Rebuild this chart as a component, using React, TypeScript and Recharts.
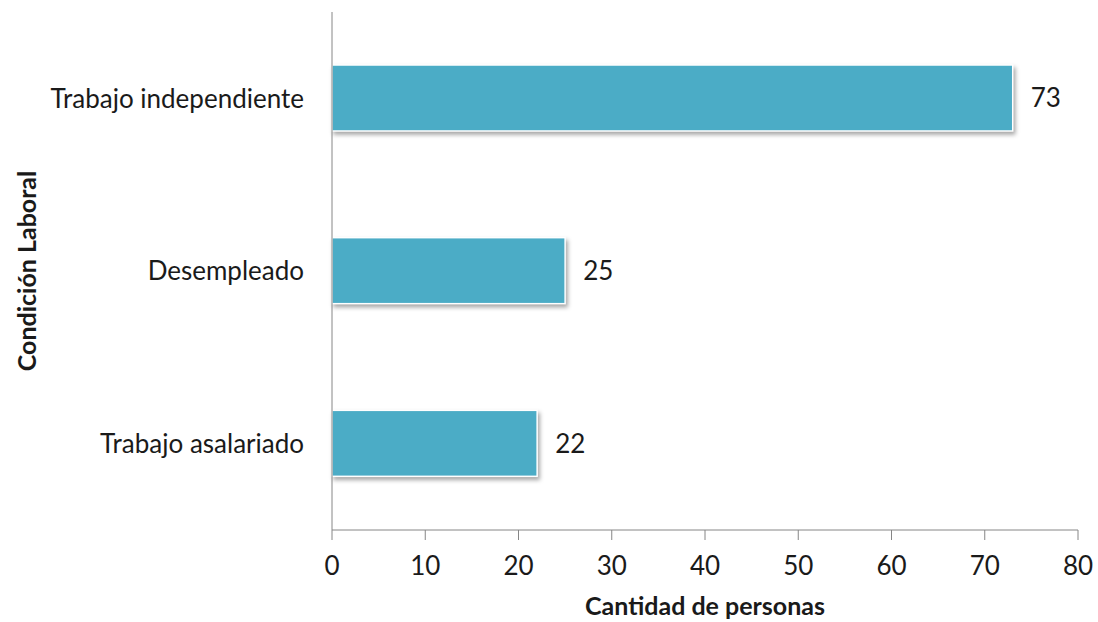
import React from 'react';
import { BarChart, Bar, XAxis, YAxis, LabelList } from 'recharts';

const categories = ['Trabajo independiente', 'Desempleado', 'Trabajo asalariado'];
const personas = [73, 25, 22];
const xTicks = [0, 10, 20, 30, 40, 50, 60, 70, 80];

const data = categories.map((condicion, i) => ({ condicion, personas: personas[i] }));

const FONT = 'Lato, "Open Sans", sans-serif';
const AXIS = '#868686';

const ShadowBar = (props: any) => {
  const { x, y, width, height } = props;
  return (
    <rect
      x={x}
      y={y}
      width={width}
      height={height}
      fill="#4BACC6"
      stroke="#ffffff"
      strokeWidth={1.5}
      style={{ filter: 'drop-shadow(2px 3px 2px rgba(0,0,0,0.35))' }}
    />
  );
};

export default function App() {
  return (
    <div style={{ position: 'fixed', left: 0, top: 0, background: '#fff' }}>
      <BarChart
        width={1098}
        height={622}
        data={data}
        layout="vertical"
        margin={{ top: 12, right: 20, bottom: 0, left: 0 }}
      >
        <XAxis
          type="number"
          domain={[0, 80]}
          ticks={xTicks}
          axisLine={{ stroke: AXIS }}
          tickLine={{ stroke: AXIS }}
          tickSize={10}
          tickMargin={17}
          height={92}
          tick={{ fill: '#1a1a1a', fontSize: 26, fontFamily: FONT }}
          label={{
            value: 'Cantidad de personas',
            position: 'insideBottom',
            offset: 7,
            fill: '#1a1a1a',
            fontSize: 25,
            fontWeight: 700,
            fontFamily: FONT,
          }}
        />
        <YAxis
          type="category"
          dataKey="condicion"
          width={332}
          axisLine={{ stroke: AXIS }}
          tickLine={false}
          tickSize={10}
          tickMargin={18}
          tick={{ fill: '#1a1a1a', fontSize: 26, fontFamily: FONT }}
          label={{
            value: 'Condición Laboral',
            angle: -90,
            position: 'insideLeft',
            offset: 27,
            style: { textAnchor: 'middle' },
            fill: '#1a1a1a',
            fontSize: 25,
            fontWeight: 700,
            fontFamily: FONT,
          }}
        />
        <Bar dataKey="personas" barSize={66} shape={ShadowBar} isAnimationActive={false}>
          <LabelList
            dataKey="personas"
            position="right"
            offset={18}
            fill="#1a1a1a"
            fontSize={26}
            fontFamily={FONT}
          />
        </Bar>
      </BarChart>
    </div>
  );
}
